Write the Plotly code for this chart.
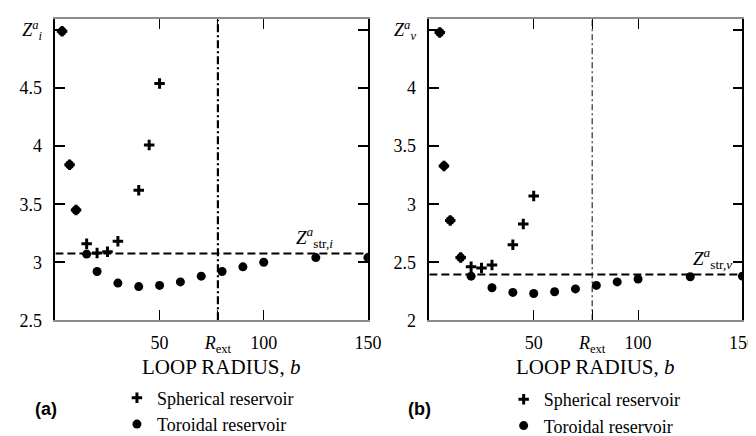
import plotly.graph_objects as go

# ---------------- data ----------------
# Panel (a): Z_i^a versus loop radius b
sph_b_a = [3.2, 6.8, 9.9, 15, 20, 25, 30, 40, 45, 50]
sph_z_a = [4.99, 3.84, 3.45, 3.16, 3.08, 3.09, 3.18, 3.62, 4.01, 4.54]
tor_b_a = [3.2, 6.8, 9.9, 15, 20, 30, 40, 50, 60, 70, 80, 90, 100, 125, 150]
tor_z_a = [4.99, 3.84, 3.45, 3.07, 2.92, 2.82, 2.79, 2.80, 2.83, 2.88, 2.92, 2.96, 3.00, 3.04, 3.04]
zstr_i = 3.075

# Panel (b): Z_v^a versus loop radius b
sph_b_b = [5, 7, 10, 15, 20, 25, 30, 40, 45, 50]
sph_z_b = [4.48, 3.33, 2.86, 2.54, 2.46, 2.45, 2.475, 2.65, 2.83, 3.07]
tor_b_b = [5, 7, 10, 15, 20, 30, 40, 50, 60, 70, 80, 90, 100, 125, 150]
tor_z_b = [4.48, 3.33, 2.86, 2.54, 2.38, 2.28, 2.24, 2.23, 2.245, 2.27, 2.30, 2.33, 2.355, 2.375, 2.38]
zstr_v = 2.393

r_ext = 78

x_tickvals = [50, r_ext, 100, 150]
x_ticktext = ["50", "<i>R</i><sub>ext</sub>", "100", "150"]
ya_tickvals = [2.5, 3, 3.5, 4, 4.5, 5]
ya_ticktext = ["2.5", "3", "3.5", "4", "4.5", "<i>Z</i><sup><i>a</i></sup><sub><i>i</i></sub>"]
yb_tickvals = [2, 2.5, 3, 3.5, 4, 4.5]
yb_ticktext = ["2", "2.5", "3", "3.5", "4", "<i>Z</i><sup><i>a</i></sup><sub><i>ν</i></sub>"]

ya_range = [2.5, 5.092]
yb_range = [2.0, 4.592]
x_range = [0, 150]

SERIF = "Liberation Serif"
W, H = 756, 436

fig = go.Figure()

plus_marker = dict(symbol="cross-thin", size=7.5, color="black",
                   line=dict(width=3, color="black"))
dot_marker = dict(symbol="circle", size=9, color="black")

fig.add_trace(go.Scatter(x=sph_b_a, y=sph_z_a, mode="markers", marker=plus_marker,
                         name="Spherical reservoir", xaxis="x", yaxis="y", legend="legend"))
fig.add_trace(go.Scatter(x=tor_b_a, y=tor_z_a, mode="markers", marker=dot_marker,
                         name="Toroidal reservoir", xaxis="x", yaxis="y", legend="legend"))
fig.add_trace(go.Scatter(x=sph_b_b, y=sph_z_b, mode="markers", marker=plus_marker,
                         name="Spherical reservoir", xaxis="x2", yaxis="y2", legend="legend2"))
fig.add_trace(go.Scatter(x=tor_b_b, y=tor_z_b, mode="markers", marker=dot_marker,
                         name="Toroidal reservoir", xaxis="x2", yaxis="y2", legend="legend2"))

ydom = [1 - 328.3 / H, 1 - 10 / H]

def xaxis_cfg(dom, anchor):
    return dict(domain=dom, anchor=anchor, range=x_range, tickmode="array",
                tickvals=x_tickvals, ticktext=x_ticktext, ticks="inside", ticklen=10,
                tickwidth=1.3, tickcolor="black", showline=True, linecolor="#8c8c8c",
                linewidth=2, mirror="ticks", showgrid=False, zeroline=False,
                ticklabelstandoff=5,
                tickfont=dict(family=SERIF, size=18, color="black"))

def yaxis_cfg(anchor, rng, tv, tt):
    return dict(domain=ydom, anchor=anchor, range=rng, tickmode="array",
                tickvals=tv, ticktext=tt, ticks="inside", ticklen=10,
                tickwidth=1.5, tickcolor="black", showline=True, linecolor="black",
                linewidth=1.5, mirror="ticks", showgrid=False, zeroline=False,
                ticklabelstandoff=8,
                tickfont=dict(family=SERIF, size=18, color="black"))

fig.update_layout(
    width=W, height=H,
    margin=dict(l=0, r=0, t=0, b=0),
    paper_bgcolor="white", plot_bgcolor="white",
    font=dict(family=SERIF, color="black"),
    xaxis=xaxis_cfg([48.3 / W, 366.7 / W], "y"),
    yaxis=yaxis_cfg("x", ya_range, ya_tickvals, ya_ticktext),
    xaxis2=xaxis_cfg([429.3 / W, 748.3 / W], "y2"),
    yaxis2=yaxis_cfg("x2", yb_range, yb_tickvals, yb_ticktext),
    legend=dict(x=111 / W, y=1 - 391 / H, xanchor="left", yanchor="top",
                bgcolor="rgba(0,0,0,0)", font=dict(family=SERIF, size=18, color="black"),
                itemwidth=30, tracegroupgap=0),
    legend2=dict(x=505 / W, y=1 - 393 / H, xanchor="left", yanchor="top",
                 bgcolor="rgba(0,0,0,0)", font=dict(family=SERIF, size=18, color="black"),
                 itemwidth=30, tracegroupgap=0),
    showlegend=True,
)

# reference lines
fig.add_shape(type="line", xref="x", yref="y", x0=x_range[0], x1=x_range[1],
              y0=zstr_i, y1=zstr_i, line=dict(color="black", width=2, dash="8px,4px"))
fig.add_shape(type="line", xref="x", yref="y", x0=r_ext, x1=r_ext,
              y0=ya_range[0], y1=ya_range[1],
              line=dict(color="black", width=2.2, dash="8px,3px,2px,3px"))
fig.add_shape(type="line", xref="x2", yref="y2", x0=x_range[0], x1=x_range[1],
              y0=zstr_v, y1=zstr_v, line=dict(color="black", width=2, dash="8px,4px"))
fig.add_shape(type="line", xref="x2", yref="y2", x0=r_ext, x1=r_ext,
              y0=yb_range[0], y1=yb_range[1],
              line=dict(color="black", width=1, dash="6px,3px,2px,3px"))

# Z_str labels
fig.add_annotation(xref="x", yref="y", x=134, y=zstr_i, xanchor="right", yanchor="bottom",
                   yshift=1, showarrow=False,
                   text="<i>Z</i><sup><i>a</i></sup><sub>str,<i>i</i></sub>",
                   font=dict(family=SERIF, size=19, color="black"))
fig.add_annotation(xref="x2", yref="y2", x=146, y=zstr_v, xanchor="right", yanchor="bottom",
                   yshift=1, showarrow=False,
                   text="<i>Z</i><sup><i>a</i></sup><sub>str,<i>ν</i></sub>",
                   font=dict(family=SERIF, size=19, color="black"))

# axis titles
for xc in (217, 598):
    fig.add_annotation(xref="paper", yref="paper", x=xc / W, y=1 - 378 / H,
                       xanchor="center", yanchor="middle", showarrow=False,
                       text="LOOP RADIUS, <i>b</i>",
                       font=dict(family=SERIF, size=21, color="black"))

# panel letters
for xc, lab in ((25, "(a)"), (406, "(b)")):
    fig.add_annotation(xref="paper", yref="paper", x=xc / W, y=1 - 422 / H,
                       xanchor="left", yanchor="middle", showarrow=False,
                       text="<b>" + lab + "</b>",
                       font=dict(family="Liberation Sans", size=18, color="black"))

fig.write_html("out.html")
